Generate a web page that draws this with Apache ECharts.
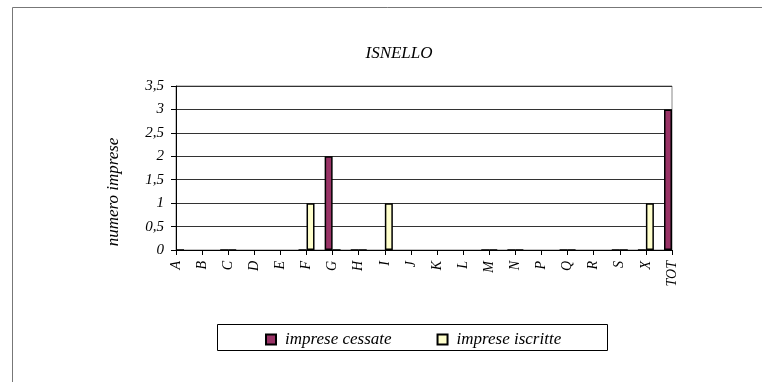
<!DOCTYPE html>
<html><head><meta charset="utf-8">
<script src="https://cdn.jsdelivr.net/npm/echarts@6/dist/echarts.min.js"></script>
<style>html,body{margin:0;padding:0;background:#fff}#c{width:762px;height:382px}</style>
</head><body><div id="c"></div>
<script>
const categories = ['A','B','C','D','E','F','G','H','I','J','K','L','M','N','P','Q','R','S','X','TOT'];
const cessate =  [null,null,0,null,null,0,2,0,null,null,null,null,0,0,null,0,null,0,0,3];
const iscritte = [0,null,0,null,null,1,0,0,1,null,null,null,0,0,null,0,null,0,1,null];
const yTicks = [0,0.5,1,1.5,2,2.5,3,3.5];
const seriesNames = ['imprese cessate','imprese iscritte'];
const titleText = 'ISNELLO';
const yName = 'numero imprese';

const font = '"Liberation Serif", "Times New Roman", serif';
const chart = echarts.init(document.getElementById('c'));
chart.setOption({
  animation: false,
  backgroundColor: '#fff',
  title: { text: titleText, left: 394, top: 40, textAlign: 'center',
    textStyle: { fontFamily: font, fontStyle: 'italic', fontWeight: 'normal', fontSize: 17, color: '#000' } },
  grid: { left: 176, top: 86, width: 496, height: 164, show: true, borderColor: '#888', borderWidth: 1, backgroundColor: 'transparent' },
  legend: { left: 260, top: 326, itemWidth: 10, itemHeight: 10, itemGap: 45, icon: 'rect',
    textStyle: { fontFamily: font, fontStyle: 'italic', fontSize: 17, color: '#000', padding: [0,0,0,4] },
    data: seriesNames },
  graphic: [
    { type: 'rect', shape: { x: 12.5, y: 7.5, width: 800, height: 400 }, style: { fill: 'none', stroke: '#777', lineWidth: 1 }, silent: true, z: -1 },
    { type: 'rect', shape: { x: 217.5, y: 324.5, width: 390, height: 26 }, style: { fill: 'none', stroke: '#000', lineWidth: 1 }, silent: true },
    { type: 'text', x: 114, y: 192, rotation: Math.PI / 2,
      style: { text: yName, fontFamily: font, fontStyle: 'italic', fontSize: 17, fill: '#000', textAlign: 'center', textVerticalAlign: 'middle' } }
  ],
  xAxis: {
    type: 'category', data: categories, boundaryGap: false,
    axisLine: { lineStyle: { color: '#000', width: 1 } },
    axisTick: { show: true, alignWithLabel: true, length: 5, lineStyle: { color: '#000' } },
    axisLabel: { rotate: 90, interval: 0, margin: 11, fontFamily: font, fontStyle: 'italic', fontSize: 14, color: '#000' },
    splitLine: { show: false }
  },
  yAxis: {
    type: 'value', min: 0, max: 3.5, interval: 0.5,
    axisLine: { show: true, lineStyle: { color: '#000', width: 1 } },
    axisTick: { show: true, length: 5, lineStyle: { color: '#000' } },
    axisLabel: { margin: 12, fontFamily: font, fontStyle: 'italic', fontSize: 15, color: '#000',
      formatter: v => String(v).replace('.', ',') },
    splitLine: { show: true, lineStyle: { color: '#333', width: 1 } }
  },
  series: [
    { name: seriesNames[0], type: 'bar', data: cessate, barWidth: 8, barGap: '0%',
      itemStyle: { color: '#993366', borderColor: '#000', borderWidth: 1.5 } },
    { name: seriesNames[1], type: 'bar', data: iscritte, barWidth: 8, barGap: '0%',
      itemStyle: { color: '#FFFFCC', borderColor: '#000', borderWidth: 1.5 } }
  ]
});
</script></body></html>
